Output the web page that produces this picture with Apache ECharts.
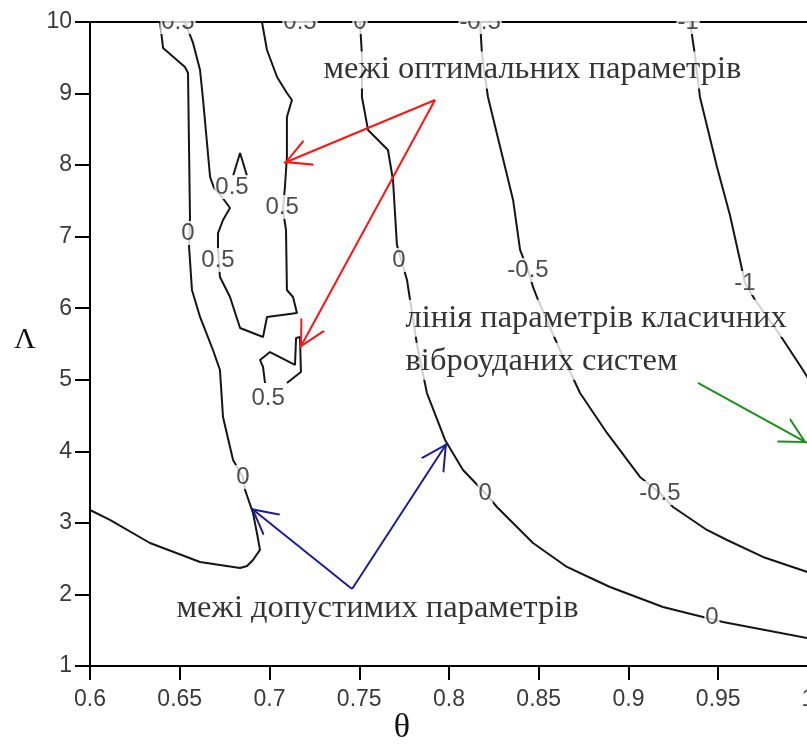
<!DOCTYPE html>
<html>
<head>
<meta charset="utf-8">
<script src="https://cdn.jsdelivr.net/npm/echarts@6/dist/echarts.min.js"></script>
<style>
  html, body { margin: 0; padding: 0; background: #fff; }
  #chart { width: 807px; height: 745px; }
</style>
</head>
<body>
<div id="chart"></div>
<script>
// contour lines, [theta, lambda]
const zeroLeft = [[0.639,10],[0.6407,9.637],[0.6529,9.371],[0.6546,9.287],[0.6557,7.275],[0.6552,6.856],
  [0.6568,6.255],[0.6613,5.878],[0.6685,5.416],[0.6724,5.137],[0.6741,4.48],[0.678,4.061],[0.6797,3.879],
  [0.6852,3.642],[0.6864,3.46],[0.6908,3.139],[0.693,2.859],[0.6947,2.622],[0.6908,2.482],[0.6875,2.398],
  [0.6836,2.37],[0.6613,2.454],[0.6334,2.719],[0.6111,3.041],[0.6,3.18]];
const halfUpper = [[0.6529,10],[0.6574,9.707],[0.6613,9.329],[0.663,8.91],[0.6669,7.834],[0.6691,7.68],
  [0.6735,7.554],[0.678,7.401],[0.6741,7.233],[0.6713,7.051],[0.6713,6.814],[0.6724,6.437],[0.678,6.157],
  [0.6836,5.724],[0.6964,5.598],[0.6986,5.878],[0.7153,5.933],[0.7131,6.157],[0.7097,6.255],[0.7092,7.093],
  [0.7075,7.373],[0.7086,7.694],[0.7097,8.113],[0.7097,8.672],[0.7125,8.91],[0.7097,9.008],[0.7042,9.231],
  [0.6986,9.609],[0.6958,10]];
const halfSpike = [[0.6797,7.848],[0.6836,8.169],[0.6875,7.848]];
const halfLower = [[0.6975,4.955],[0.6964,5.179],[0.6947,5.277],[0.7003,5.388],[0.7142,5.207],[0.7148,5.584],
  [0.717,5.598],[0.7175,5.109],[0.7097,4.955]];
const zeroMid = [[0.7504,10],[0.7515,9.539],[0.7515,8.952],[0.7549,8.491],[0.766,8.211],[0.7688,7.792],
  [0.771,6.884],[0.7766,6.395],[0.7783,6.115],[0.7822,5.486],[0.7877,4.815],[0.7978,4.159],[0.8078,3.74],
  [0.8201,3.418],[0.8267,3.222],[0.8468,2.719],[0.8657,2.384],[0.8813,2.202],[0.8897,2.104],[0.9192,1.825],
  [0.9415,1.685],[0.9526,1.615],[1.0,1.39]];
const minusHalf = [[0.8173,10],[0.8184,9.539],[0.8217,8.952],[0.8357,7.513],[0.8396,6.814],[0.844,6.534],
  [0.8468,6.297],[0.8496,6.115],[0.8618,5.416],[0.873,4.815],[0.888,4.257],[0.9064,3.642],[0.9175,3.418],
  [0.9248,3.222],[0.9437,2.901],[0.9549,2.761],[0.9749,2.524],[1.0,2.31]];
const minusOne = [[0.9343,10],[0.937,9.539],[0.9398,8.952],[0.9493,7.974],[0.9565,7.303],[0.9621,6.674],
  [0.9649,6.353],[0.9705,6.115],[0.9844,5.626],[0.9972,5.137],[1.0,5.02]];

const contourLabels = [
  [0.649,10,'0.5'],[0.7170,10,'0.5'],[0.7504,10,'0'],[0.8173,10,'-0.5'],[0.9332,10,'-1'],
  [0.6791,7.694,'0.5'],[0.707,7.415,'0.5'],[0.6546,7.051,'0'],[0.6713,6.674,'0.5'],
  [0.7721,6.674,'0'],[0.844,6.534,'-0.5'],[0.9649,6.353,'-1'],[0.6992,4.746,'0.5'],
  [0.6852,3.642,'0'],[0.8201,3.418,'0'],[0.9175,3.418,'-0.5'],[0.9465,1.685,'0']
];

const notes = [
  [0.7298, 9.33, 'межі оптимальних параметрів'],
  [0.7755, 5.86, 'лінія параметрів класичних'],
  [0.7755, 5.26, 'віброуданих систем'],
  [0.6479, 1.81, 'межі допустимих параметрів']
];

// arrows: [from, to]
const redArrows = [[[0.7922,8.91],[0.7081,8.03]], [[0.7922,8.91],[0.717,5.444]]];
const blueArrows = [[[0.746,2.076],[0.6897,3.208]], [[0.746,2.076],[0.7989,4.117]]];
const greenArrows = [[[0.9387,4.955],[0.9994,4.117]]];

const xTicks = ['0.6','0.65','0.7','0.75','0.8','0.85','0.9','0.95','1'];

const sans = "'Liberation Sans', Arial, sans-serif";
const serif = "'Liberation Serif', 'Times New Roman', serif";
const head = 'path://M49,0 L51,0 L50,0.2 Z M50,100 L100,200 L92,200 L50,116 L8,200 L0,200 Z';

function contour(data) {
  return { type: 'line', data: data, showSymbol: false, silent: true, z: 2,
    lineStyle: { color: '#151515', width: 2 } };
}
function arrows(list, color) {
  return { type: 'line', data: [list[0][0]], showSymbol: false, lineStyle: { opacity: 0 }, silent: true, z: 6,
    markLine: { silent: true, symbol: ['none', head], symbolSize: [28, 53], label: { show: false },
      lineStyle: { color: color, width: 2, type: 'solid' },
      data: list.map(a => [{ coord: a[0] }, { coord: a[1] }]) } };
}

const chart = echarts.init(document.getElementById('chart'));
chart.setOption({
  animation: false,
  grid: { left: 90, top: 22, width: 718, height: 644, show: true, borderColor: '#000', borderWidth: 2,
    containLabel: false, outerBoundsMode: 'none' },
  xAxis: {
    type: 'value', min: 0.6, max: 1.0, interval: 0.05,
    axisLine: { lineStyle: { color: '#000', width: 2 } },
    axisTick: { length: 14, lineStyle: { color: '#000', width: 2 } },
    splitLine: { show: false },
    axisLabel: { margin: 22, color: '#3a3a3a', fontFamily: sans, fontSize: 23,
      formatter: (v) => xTicks[Math.round((v - 0.6) / 0.05)] }
  },
  yAxis: {
    type: 'value', min: 1, max: 10, interval: 1,
    axisLine: { lineStyle: { color: '#000', width: 2 } },
    axisTick: { length: 15, lineStyle: { color: '#000', width: 2 } },
    splitLine: { show: false },
    axisLabel: { margin: 18, color: '#3a3a3a', fontFamily: sans, fontSize: 23 }
  },
  graphic: [
    { type: 'rect', shape: { x: 92, y: 0, width: 715, height: 21 }, style: { fill: '#fff' }, z: 100 },
    { type: 'text', x: 402, y: 728, z: 100, style: { text: 'θ', font: '34px ' + serif, fill: '#111', align: 'center', verticalAlign: 'middle' } },
    { type: 'text', x: 25, y: 340, z: 100, style: { text: 'Λ', font: '30px ' + serif, fill: '#111', align: 'center', verticalAlign: 'middle' } }
  ],
  series: [
    contour(zeroLeft), contour(halfUpper), contour(halfSpike), contour(halfLower),
    contour(zeroMid), contour(minusHalf), contour(minusOne),
    {
      type: 'scatter', silent: true, z: 4, symbolSize: 1, itemStyle: { color: 'rgba(0,0,0,0)' },
      data: contourLabels.map(d => ({ value: [d[0], d[1]], name: d[2] })),
      label: { show: true, position: 'inside', formatter: (p) => p.name, color: '#222',
        fontFamily: sans, fontSize: 24, backgroundColor: '#fff', padding: [0, 1] }
    },
    {
      type: 'scatter', silent: true, z: 5, symbolSize: 1, itemStyle: { color: 'rgba(0,0,0,0)' },
      data: notes.map(d => ({ value: [d[0], d[1]], name: d[2] })),
      label: { show: true, position: 'right', distance: 0, formatter: (p) => p.name, color: '#000',
        fontFamily: serif, fontSize: 32.5, backgroundColor: '#fff', padding: [2, 0] }
    },
    arrows(redArrows, '#ff1414'),
    arrows(blueArrows, '#1c1c96'),
    arrows(greenArrows, '#1f8f1f')
  ]
});
</script>
</body>
</html>
